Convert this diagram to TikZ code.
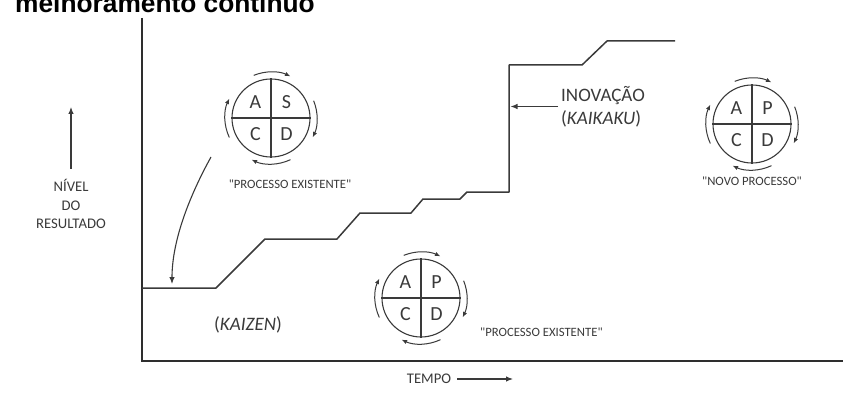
\documentclass[tikz,border=0pt]{standalone}
\usepackage{fontspec}
\setmainfont{Carlito}
\newfontfamily\capfont{Carlito}
\newfontfamily\titlefont{Liberation Sans}
\usetikzlibrary{arrows.meta}
\definecolor{ink}{HTML}{3A3A3A}
\definecolor{axisgray}{HTML}{2E2E2E}
\tikzset{
  axisline/.style={line width=1.6pt,draw=axisgray},
  stairline/.style={line width=1.5pt,draw=ink,line join=round},
  pdcaline/.style={line width=1.1pt,draw=ink},
  turn/.style={line width=1pt,draw=ink,-{Latex[length=5.5pt,width=4.5pt]}},
  pointer/.style={line width=1.1pt,draw=ink,-{Latex[length=7pt,width=5.5pt]}},
  letter/.style={text=ink,font=\fontsize{20}{22}\selectfont,inner sep=0pt},
  caption/.style={text=ink,font=\capfont\fontsize{12.7}{14}\selectfont,inner sep=0pt},
  axislabel/.style={text=ink,font=\fontsize{14.7}{18.3}\selectfont,align=center},
  bigtext/.style={text=ink,font=\fontsize{19}{23}\selectfont},
}
\begin{document}
\begin{tikzpicture}[x=1pt,y=1pt]
\clip (0,0) rectangle (851,397);
\useasboundingbox (0,0) rectangle (851,397);
% title, cut by the top edge
\node[anchor=base west,inner sep=0pt,
      font=\titlefont\bfseries\fontsize{26.3}{30}\selectfont] (title)
      at (15,384) {melhoramento contínuo};
% axes
\draw[axisline] (142,379) -- (142,36) -- (843,36);
% result level
\draw[stairline] (142,109) -- (216,109) -- (265,158) -- (337,158)
      -- (360,184) -- (411,184) -- (423,198) -- (460,198)
      -- (467,205) -- (509,205) -- (509,332) -- (582,332)
      -- (607,356) -- (675,356);
% the three cycles
\foreach \n/\cx/\cy/\q in {old/271/279/S,new/752/273/P,kz/421/99/P}
{
  \node[draw=ink,line width=1.1pt,circle,minimum size=78pt,inner sep=0pt]
        (\n) at (\cx,\cy) {};
  \draw[pdcaline] (\n.north) -- (\n.south) (\n.west) -- (\n.east);
  \node[letter] at ([shift={(-15.5,16)}]\n.center) {A};
  \node[letter] at ([shift={(15.5,16)}]\n.center) {\q};
  \node[letter] at ([shift={(-15.5,-16)}]\n.center) {C};
  \node[letter] at ([shift={(15.5,-16)}]\n.center) {D};
  \foreach \a/\b in {112/65,22/-25,-65/-115,205/155}
    \draw[turn] (\n.center) ++(\a:46) arc[start angle=\a,end angle=\b,radius=46];
}
\node[caption] (oldlbl) at (290,213) {"PROCESSO EXISTENTE"};
\node[caption] (newlbl) at (752,216) {"NOVO PROCESSO"};
\node[caption,anchor=west] (kzlbl) at (480,65) {"PROCESSO EXISTENTE"};
% back to the old process
\coordinate (fromold) at (211,240);
\coordinate (kzstart) at (172,113);
\draw[pointer] (fromold) .. controls (190,202) and (172,157) .. (kzstart);
% innovation
\node[bigtext,anchor=west,align=left,inner sep=3pt] (inov)
      at (558,290.5) {INOVAÇÃO\\(\textit{KAIKAKU})};
\coordinate (jump) at (510.5,290.5);
\draw[pointer] (inov.west) -- (jump);
\node[bigtext] (kaizen) at (248,72) {(\textit{KAIZEN})};
% axis names
\node[axislabel] (nivel) at (71,193) {NÍVEL\\DO\\RESULTADO};
\coordinate (niveltop) at (71,290);
\draw[pointer,shorten <=7pt] (nivel.north) -- (niveltop);
\node[axislabel,inner sep=6pt] (tempo) at (429,18) {TEMPO};
\coordinate (tempoend) at (513,18);
\draw[pointer] (tempo) -- (tempoend);
\end{tikzpicture}
\end{document}
